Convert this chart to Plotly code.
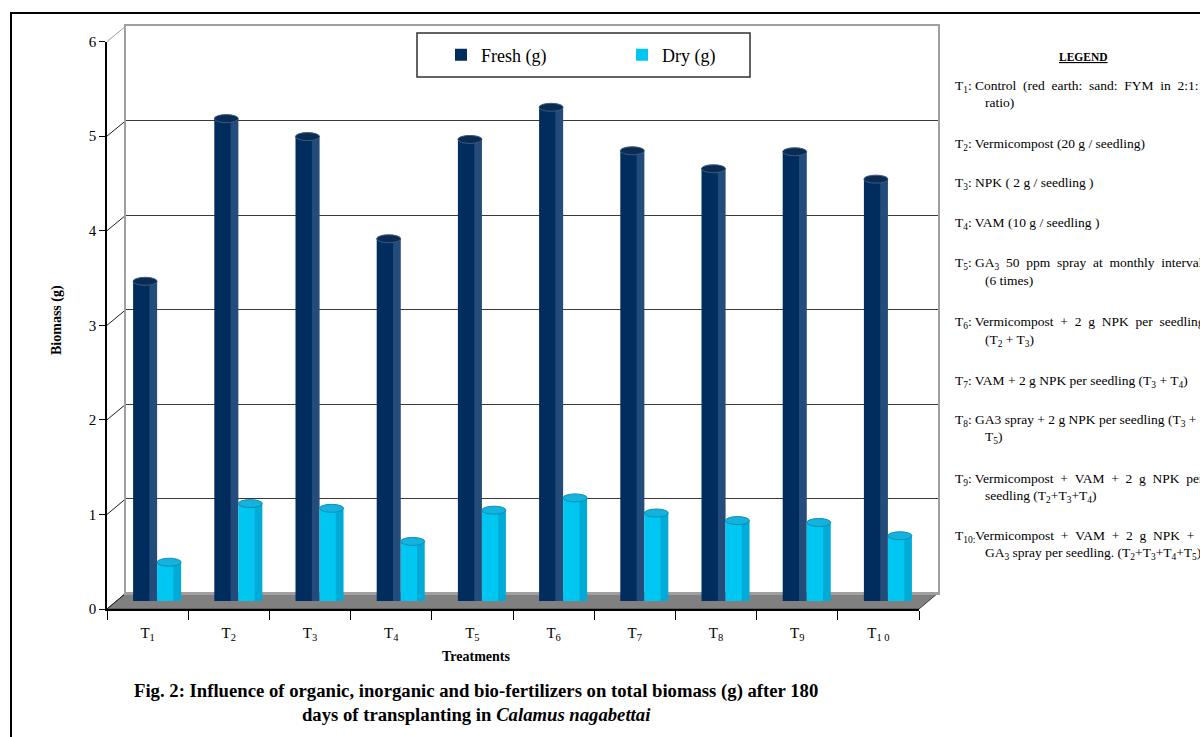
import plotly.graph_objects as go

# ---- data ----
treatments = ["T1", "T2", "T3", "T4", "T5", "T6", "T7", "T8", "T9", "T10"]
tick_labels = ["T<sub>1</sub>", "T<sub>2</sub>", "T<sub>3</sub>", "T<sub>4</sub>", "T<sub>5</sub>",
               "T<sub>6</sub>", "T<sub>7</sub>", "T<sub>8</sub>", "T<sub>9</sub>", "T<sub>1 0</sub>"]
fresh_g = [3.38, 5.10, 4.91, 3.83, 4.88, 5.22, 4.76, 4.57, 4.75, 4.46]
dry_g = [0.41, 1.03, 0.98, 0.63, 0.96, 1.09, 0.93, 0.85, 0.83, 0.69]
y_ticks = [0, 1, 2, 3, 4, 5, 6]

legend_lines = [
    ("T<sub>1</sub>: Control  (red  earth:  sand:  FYM  in  2:1:1", 0),
    ("ratio)", 1),
    ("T<sub>2</sub>: Vermicompost (20 g / seedling)", 0),
    ("T<sub>3</sub>: NPK ( 2 g / seedling )", 0),
    ("T<sub>4</sub>: VAM (10 g / seedling )", 0),
    ("T<sub>5</sub>: GA<sub>3</sub>  50  ppm  spray  at  monthly  interval", 0),
    ("(6 times)", 1),
    ("T<sub>6</sub>: Vermicompost  +  2  g  NPK  per  seedling", 0),
    ("(T<sub>2</sub> + T<sub>3</sub>)", 1),
    ("T<sub>7</sub>: VAM + 2 g NPK per seedling (T<sub>3</sub> + T<sub>4</sub>)", 0),
    ("T<sub>8</sub>: GA3 spray + 2 g NPK per seedling (T<sub>3</sub> +", 0),
    ("T<sub>5</sub>)", 1),
    ("T<sub>9</sub>: Vermicompost  +  VAM  +  2  g  NPK  per", 0),
    ("seedling (T<sub>2</sub>+T<sub>3</sub>+T<sub>4</sub>)", 1),
    ("T<sub>10:</sub>Vermicompost  +  VAM  +  2  g  NPK  +", 0),
    ("GA<sub>3</sub> spray per seedling. (T<sub>2</sub>+T<sub>3</sub>+T<sub>4</sub>+T<sub>5</sub>)", 1),
]
legend_line_y = [86, 102, 144, 184, 224, 264, 280, 322, 340, 381, 421, 438, 479, 496, 536, 553]

# ---- page geometry (pixels) ----
W, H = 1200, 737
FONT = "Liberation Serif"
FRESH = "#002d5e"
DRY = "#00c6f2"

# front plane, middle plane (columns) and back wall of the 3-D box
front = dict(x0=107, x1=919, y0=609, y1=41.5)
mid = dict(x0=116.5, x1=928.5, y0=601, y1=33.5)
back = dict(x0=126, x1=938, y0=593, y1=26)


def px(x):
    return x / W


def py(y):
    return 1 - y / H


def xdom(p):
    return [px(p["x0"]), px(p["x1"])]


def ydom(p):
    return [py(p["y0"]), py(p["y1"])]


def plane_y(p, v):
    # pixel row of value v on a given plane
    return p["y0"] + (p["y1"] - p["y0"]) * v / 6.0


n = len(treatments)
bar_w = 24 / ((front["x1"] - front["x0"]) / n)  # column width in category units

fig = go.Figure()

# empty traces so the back-wall and front-axis subplots get drawn
fig.add_trace(go.Scatter(x=[], y=[], xaxis="x", yaxis="y", showlegend=False, hoverinfo="skip"))

fig.add_trace(go.Bar(
    x=list(range(n)), y=fresh_g, name="Fresh (g)", marker=dict(color=FRESH, line=dict(width=0)),
    xaxis="x2", yaxis="y2", offsetgroup="f",
))
fig.add_trace(go.Bar(
    x=list(range(n)), y=dry_g, name="Dry (g)", marker=dict(color=DRY, line=dict(width=0)),
    xaxis="x2", yaxis="y2", offsetgroup="d",
))

fig.add_trace(go.Scatter(x=[], y=[], xaxis="x3", yaxis="y3", showlegend=False, hoverinfo="skip"))

shapes = []

# floor of the box
floor_path = "M {} {} L {} {} L {} {} L {} {} Z".format(
    px(front["x0"]), py(front["y0"]), px(back["x0"]), py(back["y0"]),
    px(back["x1"]), py(back["y0"]), px(front["x1"]), py(front["y0"]))
shapes.append(dict(type="path", path=floor_path, xref="paper", yref="paper",
                   fillcolor="#808080", line=dict(color="#404040", width=1), layer="below"))

# side-wall diagonals joining the front axis ticks to the back wall grid
for v in y_ticks:
    col = "#a0a0a0" if v == 6 else "#202020"
    shapes.append(dict(type="line", xref="paper", yref="paper",
                       x0=px(front["x0"]), y0=py(plane_y(front, v)),
                       x1=px(back["x0"]), y1=py(plane_y(back, v)),
                       line=dict(color=col, width=1), layer="below"))

# cylinder shading and top caps
for vals, side, shade, cap, capline in [
    (fresh_g, -1, "rgba(120,150,190,0.30)", "#0b2b52", "#3a5a82"),
    (dry_g, 1, "rgba(0,80,120,0.22)", "#14b2dc", "#0a8fb8"),
]:
    for i, v in enumerate(vals):
        c = i + side * bar_w / 2
        shapes.append(dict(type="rect", xref="x2", yref="y2",
                           x0=c + bar_w * 0.18, x1=c + bar_w / 2, y0=0, y1=v,
                           fillcolor=shade, line=dict(width=0), layer="above"))
        hh = 4.0 / 94.5
        shapes.append(dict(type="circle", xref="x2", yref="y2",
                           x0=c - bar_w / 2, x1=c + bar_w / 2, y0=v - hh, y1=v + hh,
                           fillcolor=cap, line=dict(color=capline, width=1), layer="above"))

# legend frame
shapes.append(dict(type="rect", xref="paper", yref="paper",
                   x0=px(417), x1=px(750), y0=py(33), y1=py(77),
                   line=dict(color="#303030", width=1.5), fillcolor="rgba(0,0,0,0)"))

# outer frame
shapes.append(dict(type="rect", xref="paper", yref="paper",
                   x0=px(11), x1=1.02, y0=py(13), y1=-0.02,
                   line=dict(color="black", width=2), fillcolor="rgba(0,0,0,0)"))

annotations = []
annotations.append(dict(
    text="<b>Fig. 2: Influence of organic, inorganic and bio-fertilizers on total biomass (g) after 180</b>"
         "<br><b>days of transplanting in <i>Calamus nagabettai</i></b>",
    xref="paper", yref="paper", x=px(476), y=py(702), xanchor="center", yanchor="middle",
    showarrow=False, align="center", font=dict(family=FONT, size=18.7, color="black")))

annotations.append(dict(text="<b>Treatments</b>", xref="paper", yref="paper",
                        x=px(476), y=py(656), xanchor="center", yanchor="middle",
                        showarrow=False, font=dict(family=FONT, size=14, color="black")))

annotations.append(dict(text="<b>Biomass (g)</b>", xref="paper", yref="paper",
                        x=px(57), y=py(320), xanchor="center", yanchor="middle", textangle=-90,
                        showarrow=False, font=dict(family=FONT, size=14, color="black")))

annotations.append(dict(text="<b><u>LEGEND</u></b>", xref="paper", yref="paper",
                        x=px(1083), y=py(57), xanchor="center", yanchor="middle",
                        showarrow=False, font=dict(family=FONT, size=11.5, color="black")))

for (txt, indent), yy in zip(legend_lines, legend_line_y):
    annotations.append(dict(text=txt.replace("  ", " \u00a0"), xref="paper", yref="paper",
                            x=px(983 if indent else 953), y=py(yy),
                            xanchor="left", yanchor="middle", align="left", showarrow=False,
                            font=dict(family=FONT, size=13.5, color="black")))

fig.update_layout(
    width=W, height=H,
    margin=dict(l=0, r=0, t=0, b=0, autoexpand=False),
    paper_bgcolor="white", plot_bgcolor="rgba(0,0,0,0)",
    barmode="group", bargap=1 - 2 * bar_w, bargroupgap=0,
    showlegend=True,
    legend=dict(orientation="h", x=px(441), y=py(55), xanchor="left", yanchor="middle",
                bgcolor="rgba(0,0,0,0)", borderwidth=0,
                entrywidth=136, entrywidthmode="pixels",
                font=dict(family=FONT, size=18, color="black")),
    # back wall of the box
    xaxis=dict(domain=xdom(back), range=[0, 1], showgrid=False, zeroline=False,
               showline=True, mirror=True, linecolor="#a0a0a0", linewidth=1.5,
               ticks="", showticklabels=False, anchor="y", fixedrange=True, automargin=False),
    yaxis=dict(domain=ydom(back), range=[0, 6], dtick=1, showgrid=True,
               gridcolor="#3a3a3a", gridwidth=1, zeroline=False,
               showline=True, mirror=True, linecolor="#a0a0a0", linewidth=1.5,
               ticks="", showticklabels=False, anchor="x", fixedrange=True, automargin=False),
    # plane carrying the columns
    xaxis2=dict(domain=xdom(mid), range=[-0.5, n - 0.5], visible=False, anchor="y2",
                fixedrange=True, automargin=False),
    yaxis2=dict(domain=ydom(mid), range=[0, 6], visible=False, anchor="x2",
                fixedrange=True, automargin=False),
    # front axes with ticks and labels
    xaxis3=dict(domain=xdom(front), range=[-0.5, n - 0.5], anchor="y3",
                tickmode="array", tickvals=list(range(n)), ticktext=tick_labels,
                ticks="outside", ticklen=9, tickcolor="rgba(0,0,0,0)",
                minor=dict(tickmode="array", tickvals=[i - 0.5 for i in range(n + 1)],
                           ticks="outside", ticklen=9, tickcolor="black", tickwidth=1, showgrid=False),
                showline=True, linecolor="black", linewidth=1.5, showgrid=False, zeroline=False,
                tickfont=dict(family=FONT, size=15, color="black"), fixedrange=True, automargin=False),
    yaxis3=dict(domain=ydom(front), range=[0, 6], anchor="x3", tickmode="array", tickvals=y_ticks,
                ticks="outside", ticklen=6, tickcolor="black", tickwidth=1,
                showline=True, linecolor="black", linewidth=1.5, showgrid=False, zeroline=False,
                tickfont=dict(family=FONT, size=15, color="black"), fixedrange=True, automargin=False),
    shapes=shapes,
    annotations=annotations,
)

fig.write_html("out.html")
